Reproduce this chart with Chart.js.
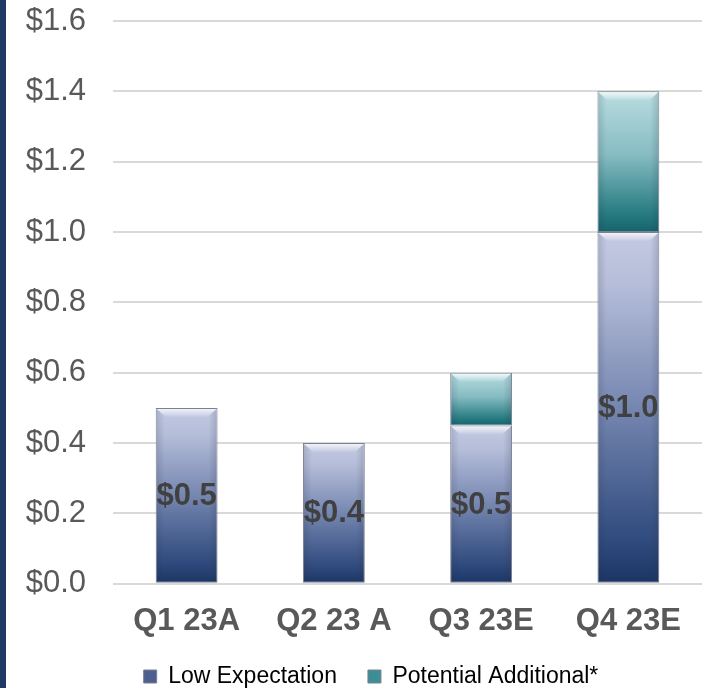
<!DOCTYPE html>
<html>
<head>
<meta charset="utf-8">
<script src="https://cdn.jsdelivr.net/npm/chart.js@4.4.1/dist/chart.umd.min.js"></script>
<style>
  html, body { margin: 0; padding: 0; background: #ffffff; }
  #wrap { position: relative; width: 702px; height: 688px; }
</style>
</head>
<body>
<div id="wrap"><canvas id="c" width="702" height="688"></canvas></div>
<script>
const categories = ['Q1 23A', 'Q2 23 A', 'Q3 23E', 'Q4 23E'];
const lowExpectation = [0.5, 0.4, 0.45, 1.0];
const potentialAdditional = [0, 0, 0.15, 0.4];
const seriesNames = ['Low Expectation', 'Potential Additional*'];
const yTicks = [0, 0.2, 0.4, 0.6, 0.8, 1.0, 1.2, 1.4, 1.6];

const FONT = "'Liberation Sans', Arial, sans-serif";
const TXT = '#595959';

function barGradient(ctx, stops) {
  const chart = ctx.chart;
  if (!chart.chartArea) return stops[1][1];
  const ys = chart.scales.y;
  const i = ctx.dataIndex;
  const start = ctx.datasetIndex === 0 ? 0 : lowExpectation[i];
  const val = ctx.datasetIndex === 0 ? lowExpectation[i] : potentialAdditional[i];
  const bottom = ys.getPixelForValue(start);
  const top = ys.getPixelForValue(start + val);
  if (!isFinite(top) || !isFinite(bottom) || top === bottom) return stops[1][1];
  const g = chart.ctx.createLinearGradient(0, bottom, 0, top);
  stops.forEach(s => g.addColorStop(s[0], s[1]));
  return g;
}

const lowStops = [[0, '#1b3463'], [0.12, '#2f4a7d'], [0.5, '#7586b0'], [0.85, '#b5bdd9'], [1, '#c4cae2']];
const tealStops = [[0, '#14646b'], [0.15, '#2a7e84'], [0.55, '#86bcc2'], [1, '#b9dde1']];

const sidePlugin = {
  id: 'sideBar',
  beforeDraw(chart) {
    const c = chart.ctx;
    c.save();
    c.fillStyle = '#1f3864';
    c.fillRect(0, 0, 6, chart.height);
    c.restore();
  }
};

const bevelPlugin = {
  id: 'bevel',
  afterDatasetsDraw(chart) {
    const c = chart.ctx;
    chart.data.datasets.forEach((ds, di) => {
      const meta = chart.getDatasetMeta(di);
      meta.data.forEach((el, i) => {
        const h = el.base - el.y;
        if (h < 4) return;
        const l = el.x - el.width / 2, r = el.x + el.width / 2, t = el.y;
        const b = Math.min(9, h / 3);
        c.save();
        const g = c.createLinearGradient(0, t, 0, t + b);
        g.addColorStop(0, 'rgba(255,255,255,0.85)');
        g.addColorStop(1, 'rgba(255,255,255,0.05)');
        c.beginPath();
        c.moveTo(l + 1, t + 1); c.lineTo(r - 1, t + 1); c.lineTo(r - 1 - b, t + b); c.lineTo(l + 1 + b, t + b); c.closePath();
        c.fillStyle = g;
        c.fill();
        const gl = c.createLinearGradient(l, 0, l + b, 0);
        gl.addColorStop(0, 'rgba(40,50,70,0.18)');
        gl.addColorStop(1, 'rgba(40,50,70,0)');
        c.beginPath();
        c.moveTo(l + 1, t + 1); c.lineTo(l + 1 + b, t + b); c.lineTo(l + 1 + b, el.base - 1); c.lineTo(l + 1, el.base - 1); c.closePath();
        c.fillStyle = gl;
        c.fill();
        const gr = c.createLinearGradient(r, 0, r - b, 0);
        gr.addColorStop(0, 'rgba(40,50,70,0.2)');
        gr.addColorStop(1, 'rgba(40,50,70,0)');
        c.beginPath();
        c.moveTo(r - 1, t + 1); c.lineTo(r - 1 - b, t + b); c.lineTo(r - 1 - b, el.base - 1); c.lineTo(r - 1, el.base - 1); c.closePath();
        c.fillStyle = gr;
        c.fill();
        c.restore();
      });
    });
  }
};

const labelPlugin = {
  id: 'valueLabels',
  afterDatasetsDraw(chart) {
    const c = chart.ctx;
    const meta = chart.getDatasetMeta(0);
    c.save();
    c.font = "bold 31px " + FONT;
    c.fillStyle = '#404040';
    c.textAlign = 'center';
    c.textBaseline = 'middle';
    meta.data.forEach((el, i) => {
      const v = Math.round(lowExpectation[i] * 10 + 1e-9) / 10;
      c.fillText('$' + v.toFixed(1), el.x, (el.y + el.base) / 2 + 1);
    });
    c.restore();
  }
};

const legendShift = {
  id: 'legendShift',
  afterLayout(chart) {
    const lg = chart.legend;
    if (lg) { lg.left += 20; lg.right += 20; lg.top -= 25; lg.bottom -= 25; }
  }
};

new Chart(document.getElementById('c'), {
  type: 'bar',
  data: {
    labels: categories,
    datasets: [
      {
        label: seriesNames[0],
        data: lowExpectation,
        backgroundColor: ctx => barGradient(ctx, lowStops),
        borderColor: '#7b8190',
        borderWidth: 1,
        borderSkipped: false,
        barPercentage: 0.7,
        categoryPercentage: 0.6
      },
      {
        label: seriesNames[1],
        data: potentialAdditional,
        backgroundColor: ctx => barGradient(ctx, tealStops),
        borderColor: '#7b8190',
        borderWidth: 1,
        borderSkipped: false,
        barPercentage: 0.7,
        categoryPercentage: 0.6
      }
    ]
  },
  options: {
    responsive: false,
    animation: false,
    devicePixelRatio: 1,
    layout: { padding: { top: 21, right: 0, left: 0, bottom: -35 } },
    plugins: {
      tooltip: { enabled: false },
      legend: {
        position: 'bottom',
        labels: {
          color: TXT,
          font: { family: FONT, size: 23 },
          boxWidth: 13,
          boxHeight: 13,
          padding: 31,
          generateLabels(chart) {
            return [
              { text: seriesNames[0], fillStyle: '#4d5f8c', strokeStyle: '#7b8190', lineWidth: 1, datasetIndex: 0 },
              { text: seriesNames[1], fillStyle: '#3d8e94', strokeStyle: '#7b8190', lineWidth: 1, datasetIndex: 1 }
            ];
          }
        }
      }
    },
    scales: {
      x: {
        stacked: true,
        grid: { display: false, drawTicks: false },
        border: { display: false },
        ticks: { color: TXT, font: { family: FONT, size: 31, weight: 'bold' }, padding: 19 }
      },
      y: {
        stacked: true,
        min: 0,
        max: 1.6,
        afterFit(scale) { scale.width = 113; scale.paddingTop = 0; scale.paddingBottom = 0; },
        afterBuildTicks(scale) { scale.ticks = yTicks.map(v => ({ value: v })); },
        grid: { color: '#d9d9d9', lineWidth: 2, drawTicks: false },
        border: { display: false },
        ticks: {
          color: TXT,
          padding: 27,
          font: { family: FONT, size: 31 },
          callback: v => '$' + Number(v).toFixed(1)
        }
      }
    }
  },
  plugins: [sidePlugin, bevelPlugin, labelPlugin, legendShift]
});
</script>
</body>
</html>
